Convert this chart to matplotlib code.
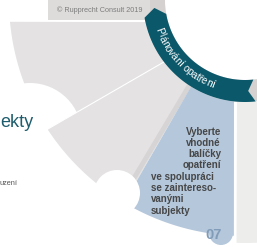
import numpy as np
import matplotlib
matplotlib.use("Agg")
import matplotlib.pyplot as plt
from matplotlib.patches import Polygon, Circle, Rectangle, Wedge
from matplotlib.font_manager import FontProperties

# ---------------- data ----------------
phase_label = "Plánování opatření"
step_number = "07"
step_lines = ["Vyberte", "vhodné", "balíčky", "opatření",
              "ve spolupráci", "se zaintereso-", "vanými", "subjekty"]
step_align = ["right", "right", "right", "right", "left", "left", "left", "left"]
copyright_text = "© Rupprecht Consult 2019"
side_title = "ekty"
side_note = "uzení"

# ---------------- geometry (pixel coords, y down) ----------------
W, H = 257, 247
CX, CY = 245, 0
R_IN, R_BAND, R_OUT = 80, 102, 236
BAND_START, BAND_END = 190, 276          # degrees (math sense)
LABEL_MID = 224                          # degrees
# pieces: inner start, outer start, inner end, outer end (deg), outer radius, colour
pieces = [
    (192.5, 185.3, 217.4, 213.2, R_OUT, "#e4e2e2"),
    (217.4, 213.2, 238.1, 239.2, R_OUT, "#e4e2e2"),
    (238.1, 239.2, 263.8, 267.3, R_OUT, "#b4c7db"),
    (265.5, 268.0, 300.0, 300.0, 243, "#ededec"),
]

FONT = "Liberation Sans"


def pt(r, th):
    t = np.deg2rad(th)
    return CX + r * np.cos(t), CY - r * np.sin(t)


def arc(r, a0, a1, n=60):
    th = np.linspace(a0, a1, n)
    t = np.deg2rad(th)
    return np.column_stack([CX + r * np.cos(t), CY - r * np.sin(t)])


def piece_poly(i0, o0, i1, o1, ro):
    outer = arc(ro, o0, o1)
    inner = arc(R_BAND, i1, i0)
    return np.vstack([outer, inner])


fig = plt.figure(figsize=(W / 100, H / 100), dpi=100)
ax = fig.add_axes([0, 0, 1, 1])
ax.set_xlim(0, W)
ax.set_ylim(H, 0)
ax.axis("off")

# phase ring (grey) behind everything
ax.add_patch(Wedge((CX, CY), R_BAND, 0, 360, width=R_BAND - R_IN,
                   facecolor="#d4d1d0", edgecolor="none", zorder=1))

# copyright bar
ax.add_patch(Rectangle((48, 0), 102, 20, facecolor="#dedcdb", edgecolor="none", zorder=2))
ax.text(100, 10, copyright_text, fontsize=5.2, color="#7d7d7d", family=FONT,
        ha="center", va="center", zorder=3)

# piece 1
ax.add_patch(Polygon(piece_poly(*pieces[0][:5]), closed=True,
                     facecolor=pieces[0][5], edgecolor="none", zorder=2))
# white socket on outer edge of piece 1
ax.add_patch(Circle((30, 135), 52, facecolor="white", edgecolor="none", zorder=3))
# piece 2
ax.add_patch(Polygon(piece_poly(*pieces[1][:5]), closed=True,
                     facecolor=pieces[1][5], edgecolor="none", zorder=4))
# separator between piece 1 and 2
p_in = pt(R_BAND, pieces[1][0]); p_out = pt(R_OUT, pieces[1][1])
ax.plot([p_in[0], p_out[0]], [p_in[1], p_out[1]], color="white", lw=0.8, zorder=5)
# soft shadow of piece 2 next to the blue piece
s_in = pt(R_BAND, pieces[2][0] - 1.2); s_out = pt(R_OUT, pieces[2][1] - 1.0)
ax.plot([s_in[0], s_out[0]], [s_in[1], s_out[1]], color="#d3d1d1", lw=3.5,
        alpha=0.8, zorder=4.5, solid_capstyle="butt")

# blue piece 07 with bottom tab
ax.add_patch(Polygon(piece_poly(*pieces[2][:5]), closed=True,
                     facecolor=pieces[2][5], edgecolor="none", zorder=4.6))
ax.add_patch(Circle((221, 233), 12, facecolor=pieces[2][5], edgecolor="none", zorder=4.6))
# white socket between piece 2 and blue
ax.add_patch(Circle((117, 193), 23, facecolor="white", edgecolor="none", zorder=5))

# right light piece
ax.add_patch(Polygon(piece_poly(*pieces[3][:5]), closed=True,
                     facecolor=pieces[3][5], edgecolor="none", zorder=4))

# teal phase arrow
rm = (R_IN + R_BAND) / 2
outer = arc(R_BAND, BAND_START, BAND_END)
notch = np.array([pt(rm, BAND_END - 4)])
inner = arc(R_IN, BAND_END, BAND_START)
tip = np.array([pt(rm, BAND_START - 5)])
ax.add_patch(Polygon(np.vstack([outer, notch, inner, tip]), closed=True,
                     facecolor="#0b586b", edgecolor="none", zorder=6))

# curved label
fig.canvas.draw()
renderer = fig.canvas.get_renderer()
fp = FontProperties(family=FONT, size=7.3)


def tw(s):
    return renderer.get_text_width_height_descent(s, fp, ismath=False)[0]


base = tw("xx")
adv = [tw("x" + ch + "x") - base for ch in phase_label]
total = sum(adv)
r_text = 94.0
start = LABEL_MID - np.rad2deg(total / 2 / r_text)
pos = 0.0
for ch, a in zip(phase_label, adv):
    c = pos + a / 2
    th = start + np.rad2deg(c / r_text)
    x, y = pt(r_text, th)
    ax.text(x, y, ch, fontproperties=fp, color="white", ha="center", va="baseline",
            rotation=th + 90, rotation_mode="anchor", zorder=7)
    pos += a

# step text
y0, dy = 134.5, 11.3
for i, (line, al) in enumerate(zip(step_lines, step_align)):
    x = 221 if al == "right" else 151
    ax.text(x, y0 + i * dy, line, fontsize=7, fontweight="bold", family=FONT,
            color="#474747", ha=al, va="baseline", zorder=8)
ax.text(222, 239, step_number, fontsize=10.5, fontweight="bold", family=FONT,
        color="#819cb8", ha="right", va="baseline", zorder=8)

# cut-off texts on the left
ax.text(0, 127, side_title, fontsize=13, family=FONT, color="#1e5d6d",
        ha="left", va="baseline", zorder=8)
ax.text(0, 185, side_note, fontsize=5.3, family=FONT, color="#555555",
        ha="left", va="baseline", zorder=8)

fig.savefig("out.png", dpi=100)
